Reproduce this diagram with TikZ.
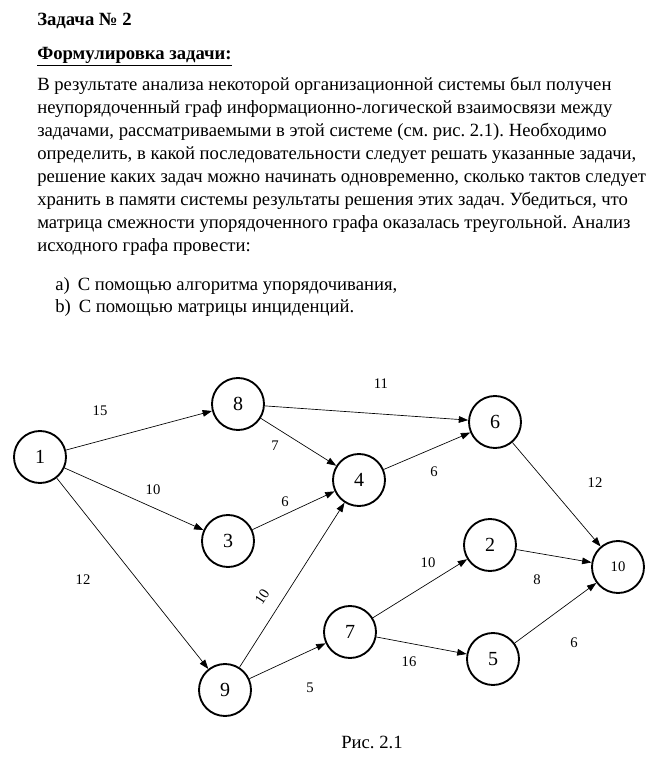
\documentclass[tikz,border=0pt]{standalone}
\usepackage{fontspec}
\setmainfont{Liberation Serif}
\newfontfamily\timesfont{Liberation Serif}
\usetikzlibrary{arrows.meta}
\frenchspacing

\begin{document}
\begin{tikzpicture}[
  x=0.75pt, y=-0.75pt,
  every node/.style={font=\timesfont\fontsize{14}{17.25}\selectfont},
  task/.style={circle, draw, line width=1.4pt, minimum size=39pt, inner sep=0pt,
               font=\timesfont\fontsize{15}{17}\selectfont},
  link/.style={-{Triangle[length=7pt,width=5pt]}, line width=0.5pt},
  weight/.style={font=\timesfont\fontsize{11}{13}\selectfont, inner sep=1pt},
]
\useasboundingbox (0,0) rectangle (661,771);

% Header and task text
\node[anchor=base west, inner sep=0pt, font=\timesfont\bfseries\fontsize{14}{17.25}\selectfont] (title) at (37,25) {Задача № 2};
\node[anchor=base west, inner sep=0pt, font=\timesfont\bfseries\fontsize{14}{17.25}\selectfont] (subtitle) at (37,59) {\underline{Формулировка задачи:}};
\node[anchor=north west, inner sep=0pt, align=left] (statement) at (37,77)
  {В результате анализа некоторой организационной системы был получен \\
   неупорядоченный граф информационно-логической взаимосвязи между \\
   задачами, рассматриваемыми в этой системе (см. рис. 2.1). Необходимо \\
   определить, в какой последовательности следует решать указанные задачи, \\
   решение каких задач можно начинать одновременно, сколько тактов следует \\
   хранить в памяти системы результаты решения этих задач. Убедиться, что \\
   матрица смежности упорядоченного графа оказалась треугольной. Анализ \\
   исходного графа провести:};
\node[anchor=base west, inner sep=0pt] (item_a) at (55,290) {a)\hspace{6pt}С помощью алгоритма упорядочивания,};
\node[anchor=base west, inner sep=0pt] (item_b) at (55,312) {b)\hspace{6pt}С помощью матрицы инциденций.};

% Task nodes
\node[task] (t1) at (40,457) {1};
\node[task] (t8) at (238,404) {8};
\node[task] (t3) at (228,541) {3};
\node[task] (t9) at (225,690) {9};
\node[task] (t4) at (359,480) {4};
\node[task] (t6) at (495,422) {6};
\node[task] (t2) at (490,545) {2};
\node[task] (t7) at (350,632) {7};
\node[task] (t5) at (493,659) {5};
\node[task, font=\timesfont\fontsize{11}{13}\selectfont] (t10) at (618,567) {10};

% Links between tasks
\draw[link] (t1) -- (t8);
\draw[link] (t1) -- (t3);
\draw[link] (t1) -- (t9);
\draw[link] (t8) -- (t6);
\draw[link] (t8) -- (t4);
\draw[link] (t3) -- (t4);
\draw[link] (t9) -- (t4);
\draw[link] (t9) -- (t7);
\draw[link] (t4) -- (t6);
\draw[link] (t6) -- (t10);
\draw[link] (t7) -- (t2);
\draw[link] (t7) -- (t5);
\draw[link] (t2) -- (t10);
\draw[link] (t5) -- (t10);

% Link weights
\node[weight] (w18) at (100,411) {15};
\node[weight] (w13) at (153,490) {10};
\node[weight] (w19) at (83,580) {12};
\node[weight] (w84) at (275,446) {7};
\node[weight] (w34) at (285,502) {6};
\node[weight, rotate=57] (w94) at (262,597) {10};
\node[weight] (w97) at (310,688) {5};
\node[weight] (w86) at (381,384) {11};
\node[weight] (w46) at (434,472) {6};
\node[weight] (w610) at (595,483) {12};
\node[weight] (w72) at (428,563) {10};
\node[weight] (w210) at (537,580) {8};
\node[weight] (w75) at (409,662) {16};
\node[weight] (w510) at (574,643) {6};

% Caption
\node (caption) at (372,742) {Рис. 2.1};
\end{tikzpicture}
\end{document}
